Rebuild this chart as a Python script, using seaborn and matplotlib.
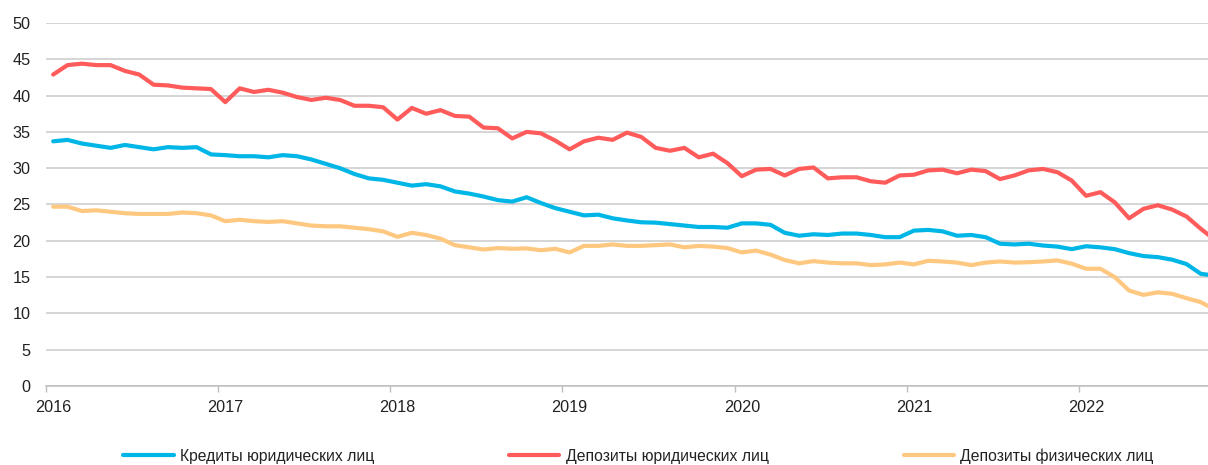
import numpy as np
import pandas as pd
import matplotlib
matplotlib.use("Agg")
import matplotlib.pyplot as plt
import seaborn as sns
from matplotlib.lines import Line2D

# ---- data (monthly, starting January 2016) ----
years = ["2016", "2017", "2018", "2019", "2020", "2021", "2022"]
series_names = ["Кредиты юридических лиц", "Депозиты юридических лиц", "Депозиты физических лиц"]

credits_legal = [
    33.7, 33.9, 33.4, 33.1, 32.8, 33.2, 32.9, 32.6, 32.9, 32.8, 32.9, 31.9,
    31.8, 31.65, 31.65, 31.5, 31.8, 31.65, 31.2, 30.6, 30.0, 29.2, 28.6, 28.4,
    28.0, 27.6, 27.8, 27.5, 26.8, 26.5, 26.1, 25.6, 25.4, 26.0, 25.2, 24.5,
    24.0, 23.5, 23.6, 23.1, 22.8, 22.55, 22.5, 22.3, 22.1, 21.9, 21.9, 21.8,
    22.4, 22.4, 22.2, 21.1, 20.7, 20.9, 20.8, 21.0, 21.0, 20.8, 20.5, 20.5,
    21.4, 21.5, 21.3, 20.7, 20.8, 20.5, 19.6, 19.5, 19.6, 19.35, 19.2, 18.85,
    19.25, 19.1, 18.85, 18.3, 17.9, 17.75, 17.4, 16.8, 15.45, 15.2,
]
deposits_legal = [
    42.9, 44.2, 44.4, 44.2, 44.2, 43.4, 42.9, 41.5, 41.4, 41.1, 41.0, 40.9,
    39.1, 41.0, 40.5, 40.8, 40.4, 39.8, 39.4, 39.7, 39.4, 38.6, 38.6, 38.4,
    36.7, 38.3, 37.5, 38.0, 37.2, 37.1, 35.6, 35.5, 34.1, 35.0, 34.8, 33.8,
    32.6, 33.7, 34.2, 33.9, 34.9, 34.3, 32.8, 32.4, 32.8, 31.5, 32.0, 30.7,
    28.9, 29.8, 29.9, 29.0, 29.9, 30.1, 28.6, 28.75, 28.75, 28.2, 28.0, 29.0,
    29.1, 29.7, 29.8, 29.3, 29.8, 29.6, 28.5, 29.0, 29.7, 29.9, 29.45, 28.3,
    26.2, 26.7, 25.3, 23.1, 24.4, 24.9, 24.3, 23.35, 21.65, 20.1,
]
deposits_retail = [
    24.7, 24.7, 24.1, 24.2, 24.0, 23.8, 23.7, 23.7, 23.7, 23.9, 23.8, 23.5,
    22.7, 22.9, 22.7, 22.6, 22.7, 22.4, 22.1, 22.0, 22.0, 21.8, 21.6, 21.3,
    20.55, 21.1, 20.8, 20.3, 19.4, 19.1, 18.8, 19.0, 18.9, 18.95, 18.7, 18.9,
    18.4, 19.3, 19.3, 19.5, 19.3, 19.3, 19.4, 19.5, 19.1, 19.3, 19.2, 19.0,
    18.4, 18.65, 18.1, 17.35, 16.9, 17.2, 17.0, 16.9, 16.9, 16.65, 16.75, 17.0,
    16.75, 17.25, 17.15, 17.0, 16.65, 17.0, 17.15, 17.0, 17.05, 17.15, 17.3, 16.85,
    16.15, 16.15, 15.0, 13.15, 12.55, 12.9, 12.7, 12.1, 11.55, 10.5,
]

colors = ["#00B6E6", "#FF5B5B", "#FFC880"]

# ---- build long table ----
frames = []
for name, vals in zip(series_names, [credits_legal, deposits_legal, deposits_retail]):
    frames.append(pd.DataFrame({"month": np.arange(len(vals)), "value": vals, "series": name}))
df = pd.concat(frames, ignore_index=True)
# category centres sit half a month after the boundary tick marks
df["x"] = df["month"] + 0.5

sns.set_theme(style="white")
plt.rcParams["font.family"] = ["Liberation Sans", "DejaVu Sans"]

W, H = 1208, 465
fig = plt.figure(figsize=(W / 100, H / 100), dpi=100)
ax = fig.add_axes([46 / W, (H - 386) / H, 1 - 46 / W, (386 - 23) / H])

sns.lineplot(data=df, x="x", y="value", hue="series", hue_order=series_names,
             palette=colors, linewidth=3.0, ax=ax, legend=False, sort=False,
             solid_joinstyle="round", solid_capstyle="round")

ax.set_xlim(0, 81)
ax.set_ylim(0, 50)
ax.set_yticks(np.arange(0, 51, 5))
# labels centred on the January category, tick marks on category boundaries
ax.set_xticks(np.arange(len(years)) * 12 + 0.5)
ax.set_xticklabels(years)
ax.set_xticks(np.arange(len(years)) * 12, minor=True)
ax.set_xlabel("")
ax.set_ylabel("")

ax.grid(axis="y", color="#CACACA", linewidth=1.1)
ax.grid(axis="x", visible=False)
ax.set_axisbelow(True)
for s in ["top", "right", "left"]:
    ax.spines[s].set_visible(False)
ax.spines["bottom"].set_color("#BDBDBD")
ax.spines["bottom"].set_linewidth(1.1)

ax.tick_params(axis="y", length=0, pad=11, labelsize=11.7, labelcolor="#222222")
ax.tick_params(axis="x", which="major", length=0, pad=10, labelsize=11.7,
               labelcolor="#222222")
ax.tick_params(axis="x", which="minor", length=4, width=1, color="#BDBDBD",
               direction="out", bottom=True)

handles = [Line2D([0], [0], color=c, lw=3.0, solid_capstyle="round") for c in colors]
fig.legend(handles, series_names, loc="center", bbox_to_anchor=(0.5285, 0.0194),
           ncol=3, frameon=False, fontsize=11.3, handlelength=3.2, handletextpad=0.4,
           columnspacing=8.6, borderpad=0, labelcolor="#222222")

fig.savefig("out.png", dpi=100)
